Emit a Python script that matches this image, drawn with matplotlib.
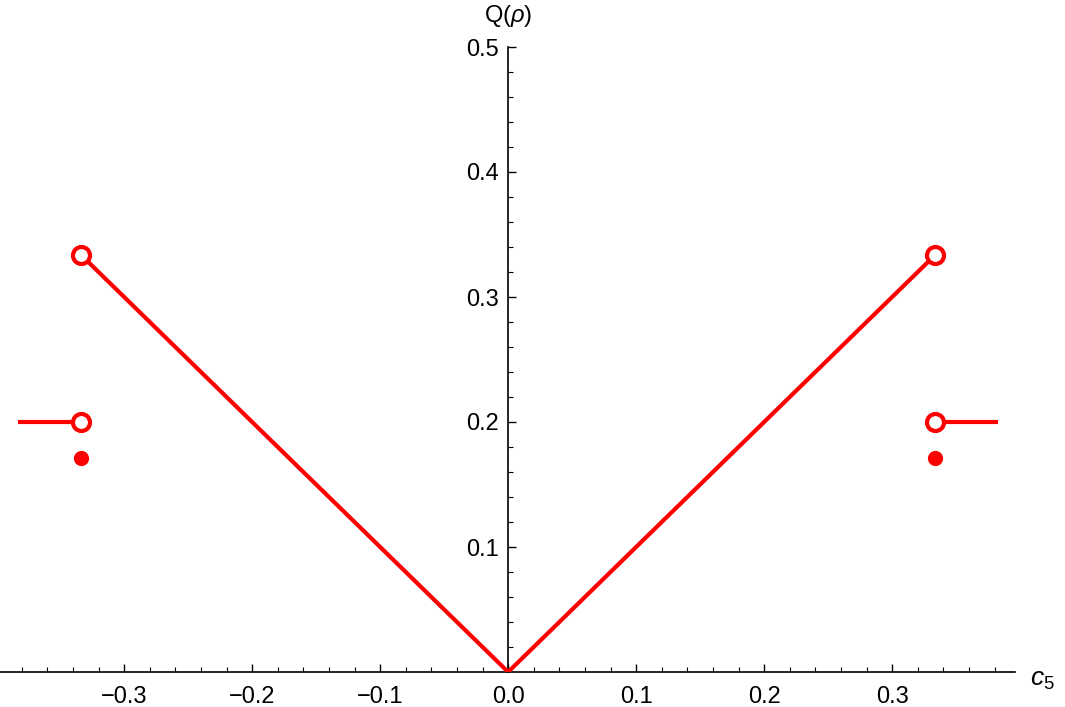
import matplotlib.pyplot as plt
import numpy as np

plt.rcParams['font.family'] = ['Liberation Sans', 'DejaVu Sans']
plt.rcParams['mathtext.fontset'] = 'custom'
plt.rcParams['mathtext.rm'] = 'Liberation Sans'
plt.rcParams['mathtext.it'] = 'Liberation Sans:italic'

# piecewise data
v_x = [-1/3, 0.0, 1/3]
v_y = [1/3, 0.0, 1/3]
left_x = [-0.383, -1/3]
right_x = [1/3, 0.383]
flat_y = [0.2, 0.2]
open_x = [-1/3, -1/3, 1/3, 1/3]
open_y = [1/3, 0.2, 1/3, 0.2]
dot_x = [-1/3, 1/3]
dot_y = [0.171, 0.171]

xticks = [-0.3, -0.2, -0.1, 0.0, 0.1, 0.2, 0.3]
yticks = [0.1, 0.2, 0.3, 0.4, 0.5]

fig = plt.figure(figsize=(10.65, 7.07), dpi=100)
ax = fig.add_axes([0.0, 35/707, 1015/1065, (672-47)/707])

red = '#ff0000'
ax.plot(v_x, v_y, color=red, lw=3, solid_capstyle='butt', zorder=3)
ax.plot(left_x, flat_y, color=red, lw=3, solid_capstyle='butt', zorder=3)
ax.plot(right_x, flat_y, color=red, lw=3, solid_capstyle='butt', zorder=3)
ax.scatter(open_x, open_y, s=150, facecolor='white', edgecolor=red, linewidth=3, zorder=4)
ax.scatter(dot_x, dot_y, s=120, color=red, zorder=4, linewidth=0)

ax.set_xlim(-0.397, 0.396)
ax.set_ylim(0, 0.5)

# axes through the origin
for s in ['top', 'right']:
    ax.spines[s].set_visible(False)
ax.spines['left'].set_position(('data', 0))
ax.spines['bottom'].set_position(('data', 0))
ax.spines['left'].set_linewidth(1.2)
ax.spines['bottom'].set_linewidth(1.2)

ax.set_xticks(xticks)
ax.set_xticklabels([f'{t:.1f}'.replace('-', '\u2212') for t in xticks])
ax.set_yticks(yticks)
ax.set_yticklabels([f'{t:.1f}' for t in yticks])
ax.set_xticks(np.arange(-0.38, 0.39, 0.02), minor=True)
ax.set_yticks(np.arange(0.02, 0.5, 0.02), minor=True)
ax.tick_params(which='major', direction='in', length=6, width=1, labelsize=17)
ax.tick_params(which='minor', direction='in', length=3.5, width=0.8)
ax.tick_params(axis='x', pad=10)
ax.tick_params(axis='y', pad=7)

fig.text(1042/1065, 1 - 680/707, r'$c_5$', fontsize=19, ha='center', va='center')
fig.text(508/1065, 1 - 16/707, r'Q($\rho$)', fontsize=17, ha='center', va='center')

fig.savefig('out.png', dpi=100)
